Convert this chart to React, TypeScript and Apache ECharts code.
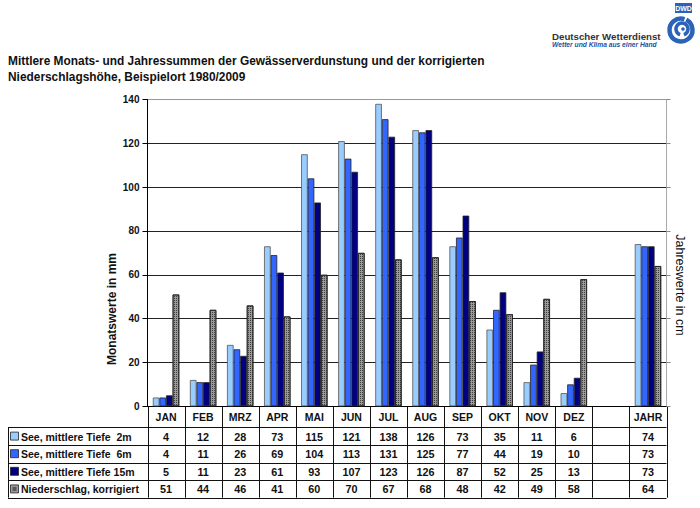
import React, { useEffect, useRef } from 'react';
import * as echarts from 'echarts';

const categories = ['JAN', 'FEB', 'MRZ', 'APR', 'MAI', 'JUN', 'JUL', 'AUG', 'SEP', 'OKT', 'NOV', 'DEZ', '', 'JAHR'];
const see2m = [4, 12, 28, 73, 115, 121, 138, 126, 73, 35, 11, 6, null, 74];
const see6m = [4, 11, 26, 69, 104, 113, 131, 125, 77, 44, 19, 10, null, 73];
const see15m = [5, 11, 23, 61, 93, 107, 123, 126, 87, 52, 25, 13, null, 73];
const niederschlag = [51, 44, 46, 41, 60, 70, 67, 68, 48, 42, 49, 58, null, 64];
const seriesNames = ['See, mittlere Tiefe  2m', 'See, mittlere Tiefe  6m', 'See, mittlere Tiefe 15m', 'Niederschlag, korrigiert'];
const seriesColors = ['#99CCFF', '#3366FF', '#000080', '#9a9a9a'];
const titleLines = [
  'Mittlere Monats- und Jahressummen der Gewässerverdunstung und der korrigierten',
  'Niederschlagshöhe, Beispielort 1980/2009',
];
const yAxisLeftName = 'Monatswerte in mm';
const yAxisRightName = 'Jahreswerte in cm';
const logoTitle = 'Deutscher Wetterdienst';
const logoSub = 'Wetter und Klima aus einer Hand';

const FONT = '"Liberation Sans", Arial, Helvetica, sans-serif';

const hatch = {
  symbol: 'rect',
  symbolSize: 1,
  dashArrayX: [1, 1],
  dashArrayY: [1, 1],
  rotation: 0,
  color: 'rgba(40,40,40,0.8)',
};

export default function App() {
  const ref = useRef<HTMLDivElement>(null);
  useEffect(() => {
    if (!ref.current) return;
    const chart = echarts.init(ref.current, null, { renderer: 'svg' });
    const allSeries = [see2m, see6m, see15m, niederschlag];
    chart.setOption({
      animation: false,
      textStyle: { fontFamily: FONT },
      grid: { left: 147.5, right: 33.5, top: 99.5, bottom: 101.7, containLabel: false },
      xAxis: {
        type: 'category',
        data: categories,
        axisLine: { show: true, lineStyle: { color: '#000', width: 1 } },
        axisTick: { show: false },
        axisLabel: { show: false },
      },
      yAxis: [
        {
          type: 'value',
          min: 0,
          max: 140,
          interval: 20,
          axisLine: { show: true, lineStyle: { color: '#000', width: 1 } },
          axisTick: { show: true, length: 5, lineStyle: { color: '#000' } },
          axisLabel: { margin: 8, fontSize: 10, fontWeight: 'bold', color: '#111', fontFamily: FONT },
          splitLine: {
            show: true,
            lineStyle: { color: ['#222', '#222', '#222', '#222', '#222', '#222', '#222', '#999'], width: 1 },
          },
        },
        {
          type: 'value',
          min: 0,
          max: 140,
          interval: 20,
          position: 'right',
          axisLine: { show: true, lineStyle: { color: '#aaa', width: 1 } },
          axisTick: { show: true, length: 4, lineStyle: { color: '#888' } },
          axisLabel: { show: false },
          splitLine: { show: false },
        },
      ],
      series: allSeries.map((d, i) => ({
        type: 'bar',
        name: seriesNames[i],
        data: d,
        barWidth: 6.6,
        barGap: '0%',
        itemStyle: {
          color: seriesColors[i],
          borderColor: i === 0 ? '#555' : '#222',
          borderWidth: 0.8,
          decal: i === 3 ? hatch : undefined,
        },
      })),
    });

    const xc = categories.map((_, i) => chart.convertToPixel({ xAxisIndex: 0 }, i) as number);
    const slot = xc[1] - xc[0];
    const y0 = chart.convertToPixel({ yAxisIndex: 0 }, 0) as number;
    const tLeft = 8;
    const cLeft = xc[0] - slot / 2;
    const cRight = xc[xc.length - 1] + slot / 2;
    const headerH = 21;
    const rowH = 17.6;
    const rowsTop = y0 + headerH;
    const bottom = rowsTop + rowH * 4;
    const lineStyle = { stroke: '#111', lineWidth: 1 };
    const els: any[] = [];

    for (let r = 0; r <= 4; r++) {
      const y = Math.round(rowsTop + r * rowH) + 0.5;
      els.push({ type: 'line', shape: { x1: tLeft, y1: y, x2: cRight, y2: y }, style: lineStyle, silent: true });
    }
    for (let i = 0; i <= categories.length; i++) {
      const x = Math.round(cLeft + i * slot) + 0.5;
      els.push({ type: 'line', shape: { x1: x, y1: y0, x2: x, y2: bottom }, style: lineStyle, silent: true });
    }
    els.push({ type: 'line', shape: { x1: tLeft + 0.5, y1: rowsTop, x2: tLeft + 0.5, y2: bottom }, style: lineStyle, silent: true });

    categories.forEach((c, i) => {
      els.push({
        type: 'text',
        x: xc[i],
        y: y0 + headerH / 2 + 0.5,
        style: { text: c, align: 'center', verticalAlign: 'middle', font: `bold 10.5px ${FONT}`, fill: '#111' },
        silent: true,
      });
    });
    allSeries.forEach((d, r) => {
      const yc = rowsTop + r * rowH + rowH / 2 + 0.5;
      els.push({
        type: 'rect',
        shape: { x: 10.5, y: yc - 4.5, width: 8, height: 8 },
        style: { fill: seriesColors[r], stroke: '#222', lineWidth: 0.8 },
        silent: true,
      });
      if (r === 3) {
        els.push({
          type: 'rect',
          shape: { x: 12.5, y: yc - 2.5, width: 4, height: 4 },
          style: { fill: '#555' },
          silent: true,
        });
      }
      els.push({
        type: 'text',
        x: 21,
        y: yc,
        style: { text: seriesNames[r], align: 'left', verticalAlign: 'middle', font: `bold 10.5px ${FONT}`, fill: '#111' },
        silent: true,
      });
      d.forEach((v, i) => {
        if (v === null) return;
        els.push({
          type: 'text',
          x: xc[i],
          y: yc,
          style: { text: String(v), align: 'center', verticalAlign: 'middle', font: `bold 10.8px ${FONT}`, fill: '#111' },
          silent: true,
        });
      });
    });

    titleLines.forEach((t, i) => {
      els.push({
        type: 'text',
        x: 8,
        y: 61 + i * 15.5,
        style: { text: t, align: 'left', verticalAlign: 'middle', font: `bold 11.9px ${FONT}`, fill: '#111' },
        silent: true,
      });
    });

    els.push({
      type: 'text',
      x: 112,
      y: 309,
      rotation: Math.PI / 2,
      style: { text: yAxisLeftName, align: 'center', verticalAlign: 'middle', font: `bold 12px ${FONT}`, fill: '#111' },
      silent: true,
    });
    els.push({
      type: 'text',
      x: 680,
      y: 285,
      rotation: -Math.PI / 2,
      style: { text: yAxisRightName, align: 'center', verticalAlign: 'middle', font: `12.5px ${FONT}`, fill: '#111' },
      silent: true,
    });

    els.push({
      type: 'text',
      x: 552,
      y: 36,
      style: { text: logoTitle, align: 'left', verticalAlign: 'middle', font: `bold 9.7px ${FONT}`, fill: '#333' },
      silent: true,
    });
    els.push({
      type: 'text',
      x: 552,
      y: 44.5,
      style: { text: logoSub, align: 'left', verticalAlign: 'middle', font: `italic bold 6.7px ${FONT}`, fill: '#1f4f9f' },
      silent: true,
    });
    els.push({ type: 'rect', shape: { x: 675, y: 3, width: 17, height: 10 }, style: { fill: '#2a63b8' }, silent: true });
    els.push({
      type: 'text',
      x: 683.5,
      y: 8.5,
      style: { text: 'DWD', align: 'center', verticalAlign: 'middle', font: `bold 7px ${FONT}`, fill: '#fff' },
      silent: true,
    });
    els.push({
      type: 'arc',
      shape: { cx: 681, cy: 30, r: 11.5, startAngle: -Math.PI * 0.35, endAngle: Math.PI * 1.6, clockwise: true },
      style: { stroke: '#2a63b8', lineWidth: 4.5, fill: 'none' },
      silent: true,
    });
    els.push({
      type: 'arc',
      shape: { cx: 682, cy: 29, r: 6, startAngle: Math.PI * 0.6, endAngle: Math.PI * 2.4, clockwise: true },
      style: { stroke: '#2a63b8', lineWidth: 3.5, fill: 'none' },
      silent: true,
    });
    els.push({ type: 'circle', shape: { cx: 683, cy: 29, r: 1.8 }, style: { fill: '#2a63b8' }, silent: true });

    chart.setOption({ graphic: { elements: els } });
    return () => chart.dispose();
  }, []);
  return <div ref={ref} style={{ width: 700, height: 508, position: 'absolute', left: 0, top: 0, background: '#fff' }} />;
}
